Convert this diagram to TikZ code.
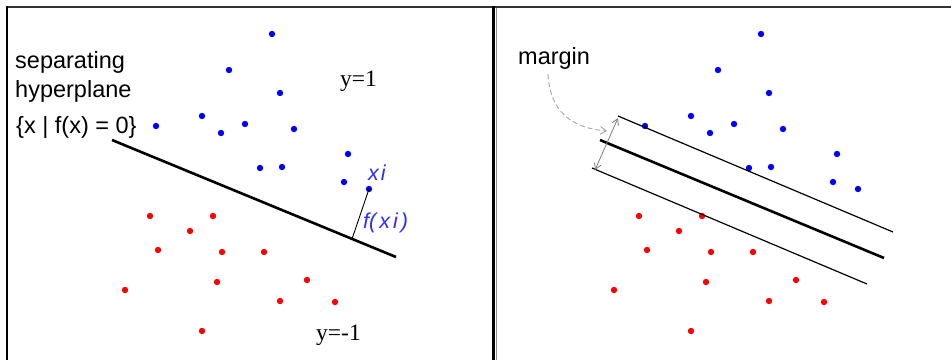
\documentclass[tikz,border=0pt]{standalone}
\usepackage{fontspec}
\setmainfont{Liberation Sans}
\newfontfamily\tnr{Liberation Serif}
\usetikzlibrary{arrows.meta}
\definecolor{ptblue}{RGB}{0,0,255}
\definecolor{ptred}{RGB}{255,0,0}
\definecolor{lblblue}{RGB}{45,45,255}
\definecolor{mgray}{RGB}{125,125,125}
\definecolor{lgray}{RGB}{165,165,165}
\begin{document}
\begin{tikzpicture}[x=1pt,y=-1pt,
  lbl/.style={anchor=base west,inner sep=0pt,font=\fontsize{23.5}{28}\selectfont},
  ylbl/.style={anchor=base west,inner sep=0pt,font=\tnr\fontsize{23.5}{26}\selectfont},
  xlbl/.style={anchor=base west,inner sep=0pt,text=lblblue,font=\itshape\fontsize{21.5}{24}\selectfont},
  hyper/.style={line width=2.6pt},
  marginline/.style={line width=1.2pt},
  bluedot/.style={fill=ptblue},
  reddot/.style={fill=ptred}]
\useasboundingbox (0,0) rectangle (951,360);
% frames
\draw[line width=2.2pt,black!80] (7,7) -- (951,7);
\draw[line width=2.2pt] (7,6) -- (7,360);
\draw[line width=2.4pt] (493.5,6) -- (493.5,360);
\draw[line width=1pt,black!45] (496.5,8) -- (496.5,360);
% points, left panel and right panel (shifted by 489)
\foreach \x/\y in {272/34,229/70,280/93,202/116,156/126,245/124,221/133,294/129,348/154,260/168,282/167,344/182,369/189}{
  \fill[bluedot] (\x,\y) circle[radius=3.2pt];
  \fill[bluedot] (\x+489,\y) circle[radius=3.2pt];
}
\foreach \x/\y in {150/216,213/216,190/231,158/250,222/252,264/252,217/282,307/280,125/290,280/301,335/302,202/331}{
  \fill[reddot] (\x,\y) circle[radius=3.2pt];
  \fill[reddot] (\x+489,\y) circle[radius=3.2pt];
}
% left panel
\node[lbl] (sep) at (15,68) {separating};
\node[lbl] (hyp) at (15,97) {hyperplane};
\node[lbl] (set) at (16,133) {\{x | f(x) = 0\}};
\node[ylbl] (ypos) at (340,86) {y=1};
\node[ylbl] (yneg) at (316,340) {y=-1};
\coordinate (hA) at (112,140);
\coordinate (hB) at (396,257);
\draw[hyper] (hA) -- (hB);
\coordinate (xi) at (369,189);
\coordinate (foot) at (352,239);
\draw[line width=0.9pt] (xi) -- (foot);
\node[xlbl] (xilbl) at (368,180) {x\hspace{2pt}i};
\node[xlbl] (fxi) at (363,228) {f(\hspace{3pt}x\hspace{3pt}i\hspace{3pt})};
% right panel
\coordinate (cA) at (600,140);
\coordinate (cB) at (884,258);
\coordinate (uA) at (618,116);
\coordinate (uB) at (893,232);
\coordinate (lA) at (592,168);
\coordinate (lB) at (867,284);
\draw[hyper] (cA) -- (cB);
\draw[marginline] (uA) -- (uB);
\draw[marginline] (lA) -- (lB);
\coordinate (mt) at (618,118);
\coordinate (mb) at (595,170);
\draw[mgray,line width=0.8pt,{Straight Barb[length=6pt,width=7pt]}-{Straight Barb[length=6pt,width=7pt]}] (mt) -- (mb);
\node[lbl] (mlbl) at (518,64) {margin};
\coordinate (mstart) at (548,74);
\coordinate (mend) at (607,131);
\draw[lgray,line width=0.9pt,dash pattern=on 5pt off 3pt,-{Straight Barb[length=6pt,width=8pt]}] (mstart) .. controls (550,112) and (572,128) .. (mend);
\end{tikzpicture}
\end{document}
